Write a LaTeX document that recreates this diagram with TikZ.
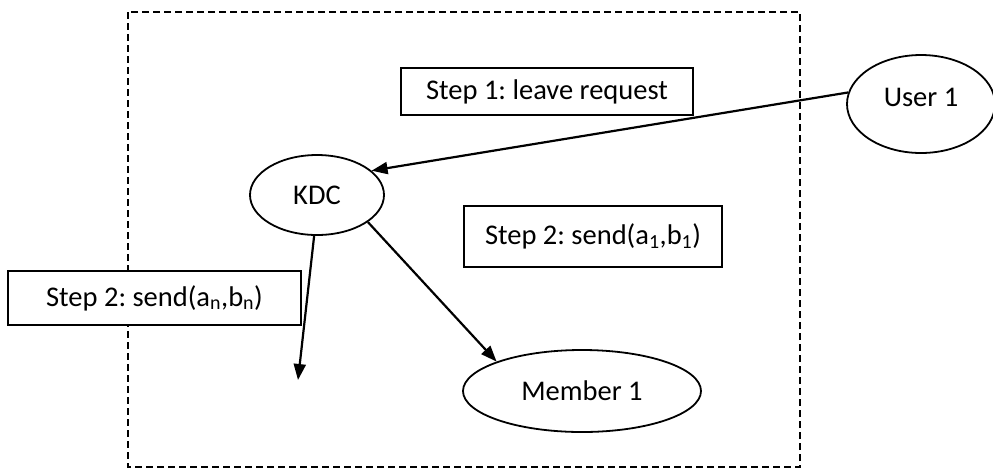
\documentclass[tikz,border=0pt]{standalone}
\usepackage{fontspec}
\setmainfont{Carlito}
\frenchspacing
\usetikzlibrary{shapes.geometric,arrows.meta}

\begin{document}
\begin{tikzpicture}[x=1pt,y=-1pt,
        party/.style={draw,line width=1.8pt,ellipse,inner sep=0pt,fill=white},
        stepbox/.style={draw,line width=1.8pt,rectangle,inner sep=0pt,fill=white},
        flow/.style={-{Triangle[length=16pt,width=12pt]},line width=2.2pt},
        font=\fontsize{28.5}{34}\selectfont]
        % Background
        \useasboundingbox[fill=white] (0,0) rectangle (993,475);
        \draw[line width=1.8pt,dash pattern=on 7pt off 4pt] (128,12) rectangle (800,467);

        % Labels
        \node[stepbox,minimum width=292pt,minimum height=47pt] (leave) at (547,91.5) {Step 1: leave request};
        \node[stepbox,minimum width=258pt,minimum height=61pt] (sendone) at (593,236.5) {Step 2: send(a\textsubscript{1},b\textsubscript{1})};
        \node[stepbox,minimum width=293pt,minimum height=54pt] (sendn) at (154.5,298) {Step 2: send(a\textsubscript{n},b\textsubscript{n})};

        % Parties
        \node[party,minimum width=148pt,minimum height=98pt] (user) at (921,104) {};
        \node at (921,97) {User 1};
        \node[party,minimum width=134pt,minimum height=80pt] (kdc) at (317,195) {KDC};
        \node[party,minimum width=238pt,minimum height=82pt] (member) at (582,391) {Member 1};
        \coordinate (rest) at (298,380);

        % Messages
        \draw[flow] (user.171) -- (kdc.24);
        \draw[flow] (kdc.332) -- (member.161);
        \draw[flow] (kdc.266) -- (rest);
    \end{tikzpicture}
\end{document}
